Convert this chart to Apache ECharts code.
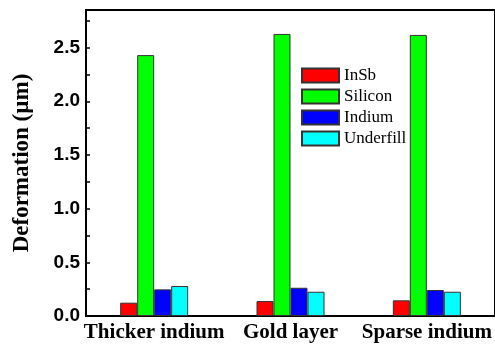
<!DOCTYPE html>
<html><head><meta charset="utf-8">
<script src="https://cdn.jsdelivr.net/npm/echarts@6/dist/echarts.min.js"></script>
<style>html,body{margin:0;padding:0;background:#fff}#c{width:495px;height:346px}</style>
</head><body><div id="c"></div>
<script>
const categories = ['Thicker indium', 'Gold layer', 'Sparse indium'];
const insb = [0.124, 0.139, 0.146];
const silicon = [2.43, 2.627, 2.618];
const indium = [0.248, 0.263, 0.242];
const underfill = [0.279, 0.226, 0.226];
const seriesNames = ['InSb', 'Silicon', 'Indium', 'Underfill'];
const colors = ['#ff0000', '#00ff00', '#0000ff', '#00ffff'];
const yMin = 0, yMax = 2.85, yInterval = 0.5, yMinorInterval = 0.25;

const chart = echarts.init(document.getElementById('c'));
const data = [insb, silicon, indium, underfill];
chart.setOption({
  animation: false,
  grid: { left: 86, top: 10, width: 411, height: 306, show: true, borderColor: '#000', borderWidth: 2 },
  legend: {
    orient: 'vertical', left: 301, top: 67, padding: 0, itemWidth: 37, itemHeight: 14, itemGap: 4,
    icon: 'rect',
    textStyle: { fontFamily: 'Liberation Serif', fontSize: 17, color: '#000' },
    data: seriesNames
  },
  xAxis: [{
    type: 'category', data: categories, position: 'bottom',
    axisLine: { lineStyle: { color: '#000', width: 2 } },
    axisTick: { inside: true, length: 5, lineStyle: { color: '#000', width: 1.5 } },
    axisLabel: { interval: 0, fontFamily: 'Liberation Serif', fontWeight: 'bold', fontSize: 21, color: '#000', margin: 6 }
  }, {
    type: 'category', data: categories, position: 'top',
    axisLine: { show: true, lineStyle: { color: '#000', width: 2 } },
    axisTick: { inside: true, length: 4, lineStyle: { color: '#000', width: 1 } },
    axisLabel: { show: false }
  }],
  yAxis: [{
    type: 'value', min: yMin, max: yMax, interval: yInterval, position: 'left',
    name: 'Deformation (µm)', nameLocation: 'middle', nameGap: 52, nameRotate: 90,
    nameTextStyle: { fontFamily: 'Liberation Serif', fontWeight: 'bold', fontSize: 23, color: '#000' },
    axisLine: { show: true, lineStyle: { color: '#000', width: 2 } },
    axisTick: { inside: true, length: 6, lineStyle: { color: '#000', width: 1.5 } },
    splitLine: { show: false },
    axisLabel: {
      fontFamily: 'Liberation Sans', fontWeight: 'bold', fontSize: 19, color: '#000', margin: 6,
      formatter: v => (Math.abs(v / yInterval - Math.round(v / yInterval)) < 1e-6) ? v.toFixed(1) : ''
    }
  }, {
    type: 'value', min: yMin, max: yMax, interval: yMinorInterval, position: 'left', offset: 0,
    axisLine: { show: false },
    axisTick: { show: true, inside: true, length: 4, lineStyle: { color: '#000', width: 1.5 } },
    splitLine: { show: false },
    axisLabel: { show: false }
  }],
  series: seriesNames.map((n, i) => ({
    name: n, type: 'bar', data: data[i], barWidth: 17, barGap: '0%', yAxisIndex: 0,
    itemStyle: { color: colors[i], borderColor: '#333', borderWidth: 1 }
  }))
});
</script></body></html>
